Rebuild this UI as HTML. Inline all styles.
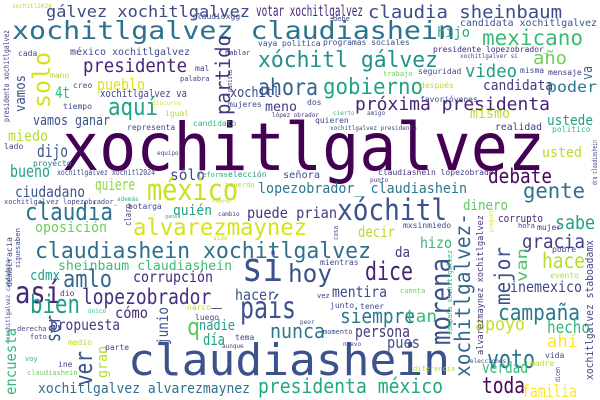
<!DOCTYPE html>
<html><head><meta charset="utf-8"><style>
html,body{margin:0;padding:0;background:#fff;}
svg{display:block;}
text{font-family:"DejaVu Sans Mono","Liberation Mono",monospace;}
</style></head><body>
<svg width="600" height="400" viewBox="0 0 600 400" xmlns="http://www.w3.org/2000/svg">
<rect width="600" height="400" fill="#fff"/>
<g lengthAdjust="spacingAndGlyphs">
<!-- big words -->
<text x="62" y="170" font-size="66" fill="#440154" textLength="483" lengthAdjust="spacingAndGlyphs">xochitlgalvez</text>
<text x="128" y="375" font-size="44" fill="#3b528b" textLength="322" lengthAdjust="spacingAndGlyphs">claudiashein</text>
<text x="12" y="39" font-size="25" fill="#2c728e" textLength="443" lengthAdjust="spacingAndGlyphs">xochitlgalvez claudiashein</text>
<text x="46" y="17" font-size="16" fill="#3e4989" textLength="204" lengthAdjust="spacingAndGlyphs">gálvez xochitlgalvez</text>
<text x="256" y="16" font-size="15" fill="#482878" textLength="107" lengthAdjust="spacingAndGlyphs">votar xochitlgalvez</text>
<text x="368" y="18" font-size="18" fill="#3e4a89" textLength="194" lengthAdjust="spacingAndGlyphs">claudia sheinbaum</text>
<text x="83" y="72" font-size="19" fill="#482677" textLength="104" lengthAdjust="spacingAndGlyphs">presidente</text>
<text x="258" y="67" font-size="22" fill="#21918c" textLength="180" lengthAdjust="spacingAndGlyphs">xóchitl gálvez</text>
<text x="258" y="95" font-size="23" fill="#33638d" textLength="60" lengthAdjust="spacingAndGlyphs">ahora</text>
<text x="482" y="45" font-size="21" fill="#3bbb75" textLength="101" lengthAdjust="spacingAndGlyphs">mexicano</text>
<text x="437" y="37" font-size="14" fill="#29af7f" textLength="33" lengthAdjust="spacingAndGlyphs">hijo</text>
<text x="460" y="26" font-size="10" fill="#3b528b" textLength="137" lengthAdjust="spacingAndGlyphs">candidata xochitlgalvez</text>
<text x="533" y="64" font-size="18" fill="#6ece58" textLength="34" lengthAdjust="spacingAndGlyphs">año</text>
<text x="465" y="77" font-size="18" fill="#1f9e89" textLength="52" lengthAdjust="spacingAndGlyphs">video</text>
<text x="323" y="94" font-size="22" fill="#20a386" textLength="100" lengthAdjust="spacingAndGlyphs">gobierno</text>
<text x="355" y="110" font-size="18" fill="#482475" textLength="195" lengthAdjust="spacingAndGlyphs">próxima presidenta</text>
<text x="483" y="90" font-size="14" fill="#443983" textLength="70" lengthAdjust="spacingAndGlyphs">candidata</text>
<text x="547" y="92" font-size="15" fill="#2a788e" textLength="50" lengthAdjust="spacingAndGlyphs">poder</text>
<text x="470" y="118" font-size="14" fill="#b5de2b" textLength="40" lengthAdjust="spacingAndGlyphs">mismo</text>
<text x="547" y="125" font-size="14" fill="#1fa187" textLength="46" lengthAdjust="spacingAndGlyphs">ustede</text>
<text x="495" y="130" font-size="10" fill="#433e85" textLength="47" lengthAdjust="spacingAndGlyphs">realidad</text>
<text x="542" y="157" font-size="14" fill="#b5de2b" textLength="40" lengthAdjust="spacingAndGlyphs">usted</text>
<text x="488" y="183" font-size="20" fill="#46085c" textLength="64" lengthAdjust="spacingAndGlyphs">debate</text>
<text x="523" y="198" font-size="21" fill="#2c728e" textLength="62" lengthAdjust="spacingAndGlyphs">gente</text>
<text x="258" y="193" font-size="14" fill="#2a788e" textLength="209" lengthAdjust="spacingAndGlyphs">lopezobrador_ claudiashein</text>
<text x="283" y="178" font-size="10" fill="#3e4989" textLength="37" lengthAdjust="spacingAndGlyphs">señora</text>
<text x="70" y="55" font-size="10" fill="#3e4989" textLength="120" lengthAdjust="spacingAndGlyphs">méxico xochitlgalvez</text>
<text x="97" y="90" font-size="16" fill="#d8e219" textLength="48" lengthAdjust="spacingAndGlyphs">pueblo</text>
<text x="55" y="98" font-size="16" fill="#35b779" textLength="15" lengthAdjust="spacingAndGlyphs">4t</text>
<text x="100" y="97" font-size="11" fill="#3e4989" textLength="87" lengthAdjust="spacingAndGlyphs">xochitlgalvez va</text>
<text x="108" y="115" font-size="24" fill="#20a486" textLength="50" lengthAdjust="spacingAndGlyphs">aquí</text>
<text x="230" y="97" font-size="14" fill="#3e4989" textLength="50" lengthAdjust="spacingAndGlyphs">xochitl</text>
<text x="265" y="111" font-size="13" fill="#453781" textLength="32" lengthAdjust="spacingAndGlyphs">meno</text>
<text x="33" y="125" font-size="14" fill="#3b528b" textLength="77" lengthAdjust="spacingAndGlyphs">vamos ganar</text>
<text x="8" y="141" font-size="15" fill="#b5de2b" textLength="40" lengthAdjust="spacingAndGlyphs">miedo</text>
<text x="37" y="157" font-size="17" fill="#3b528b" textLength="31" lengthAdjust="spacingAndGlyphs">dijo</text>
<text x="10" y="177" font-size="17" fill="#20a386" textLength="40" lengthAdjust="spacingAndGlyphs">bueno</text>
<text x="57" y="175" font-size="8" fill="#3e4989" textLength="98" lengthAdjust="spacingAndGlyphs">xochitlgalvez xochitl2024</text>
<text x="170" y="180" font-size="15" fill="#3e4989" textLength="35" lengthAdjust="spacingAndGlyphs">sólo</text>
<text x="95" y="190" font-size="16" fill="#90d743" textLength="40" lengthAdjust="spacingAndGlyphs">quiere</text>
<text x="15" y="197" font-size="15" fill="#3b528b" textLength="70" lengthAdjust="spacingAndGlyphs">ciudadano</text>
<text x="147" y="200" font-size="29" fill="#c8e020" textLength="91" lengthAdjust="spacingAndGlyphs">méxico</text>
<text x="337" y="220" font-size="29" fill="#3b528b" textLength="110" lengthAdjust="spacingAndGlyphs">xóchitl</text>
<text x="463" y="210" font-size="14" fill="#5ec962" textLength="45" lengthAdjust="spacingAndGlyphs">dinero</text>
<text x="25" y="220" font-size="24" fill="#2c728e" textLength="88" lengthAdjust="spacingAndGlyphs">claudia</text>
<text x="133" y="235" font-size="23" fill="#d8e219" textLength="174" lengthAdjust="spacingAndGlyphs">alvarezmaynez</text>
<text x="173" y="215" font-size="14" fill="#1fa187" textLength="39" lengthAdjust="spacingAndGlyphs">quién</text>
<text x="247" y="218" font-size="15" fill="#453781" textLength="90" lengthAdjust="spacingAndGlyphs">puede prian</text>
<text x="35" y="232" font-size="14" fill="#6ece58" textLength="72" lengthAdjust="spacingAndGlyphs">oposición</text>
<text x="35" y="258" font-size="22" fill="#2d708e" textLength="336" lengthAdjust="spacingAndGlyphs">claudiashein xochitlgalvez</text>
<text x="58" y="270" font-size="13" fill="#3cbc75" textLength="174" lengthAdjust="spacingAndGlyphs">sheinbaum claudiashein</text>
<text x="242" y="281" font-size="40" fill="#3b528b" textLength="41" lengthAdjust="spacingAndGlyphs">si</text>
<text x="288" y="282" font-size="25" fill="#3b528b" textLength="44" lengthAdjust="spacingAndGlyphs">hoy</text>
<text x="63" y="287" font-size="24" fill="#31688e" textLength="49" lengthAdjust="spacingAndGlyphs">amlo</text>
<text x="30" y="280" font-size="14" fill="#1fa187" textLength="30" lengthAdjust="spacingAndGlyphs">cdmx</text>
<text x="133" y="282" font-size="15" fill="#482878" textLength="80" lengthAdjust="spacingAndGlyphs">corrupción</text>
<text x="15" y="303" font-size="30" fill="#482878" textLength="46" lengthAdjust="spacingAndGlyphs">así</text>
<text x="82" y="304" font-size="21" fill="#46307e" textLength="140" lengthAdjust="spacingAndGlyphs">lopezobrador_</text>
<text x="332" y="297" font-size="15" fill="#3e4989" textLength="55" lengthAdjust="spacingAndGlyphs">mentira</text>
<text x="365" y="280" font-size="26" fill="#482475" textLength="48" lengthAdjust="spacingAndGlyphs">dice</text>
<text x="358" y="237" font-size="15" fill="#b5de2b" textLength="37" lengthAdjust="spacingAndGlyphs">decir</text>
<text x="420" y="248" font-size="15" fill="#35b779" textLength="32" lengthAdjust="spacingAndGlyphs">hizo</text>
<text x="395" y="257" font-size="14" fill="#453781" textLength="15" lengthAdjust="spacingAndGlyphs">da</text>
<text x="498" y="222" font-size="11" fill="#482878" textLength="45" lengthAdjust="spacingAndGlyphs">corrupto</text>
<text x="555" y="229" font-size="19" fill="#1fa187" textLength="40" lengthAdjust="spacingAndGlyphs">sabe</text>
<text x="522" y="248" font-size="19" fill="#433e85" textLength="63" lengthAdjust="spacingAndGlyphs">gracia</text>
<text x="542" y="268" font-size="21" fill="#b5de2b" textLength="43" lengthAdjust="spacingAndGlyphs">hace</text>
<text x="510" y="292" font-size="15" fill="#3e4989" textLength="72" lengthAdjust="spacingAndGlyphs">inemexico</text>
<text x="240" y="318" font-size="30" fill="#3b528b" textLength="56" lengthAdjust="spacingAndGlyphs">país</text>
<text x="30" y="313" font-size="26" fill="#1f9e89" textLength="50" lengthAdjust="spacingAndGlyphs">bien</text>
<text x="235" y="300" font-size="15" fill="#3b528b" textLength="40" lengthAdjust="spacingAndGlyphs">hacer</text>
<text x="115" y="318" font-size="15" fill="#482878" textLength="33" lengthAdjust="spacingAndGlyphs">cómo</text>
<text x="340" y="323" font-size="20" fill="#2a788e" textLength="75" lengthAdjust="spacingAndGlyphs">siempre</text>
<text x="405" y="322" font-size="17" fill="#35b779" textLength="32" lengthAdjust="spacingAndGlyphs">tan</text>
<text x="498" y="320" font-size="22" fill="#2a788e" textLength="82" lengthAdjust="spacingAndGlyphs">campaña</text>
<text x="50" y="330" font-size="15" fill="#453781" textLength="70" lengthAdjust="spacingAndGlyphs">propuesta</text>
<text x="187" y="335" font-size="24" fill="#5ec962" textLength="13" lengthAdjust="spacingAndGlyphs">q</text>
<text x="199" y="330" font-size="14" fill="#1f9e89" textLength="36" lengthAdjust="spacingAndGlyphs">nadie</text>
<text x="270" y="338" font-size="20" fill="#2a788e" textLength="55" lengthAdjust="spacingAndGlyphs">nunca</text>
<text x="355" y="337" font-size="16" fill="#453781" textLength="55" lengthAdjust="spacingAndGlyphs">persona</text>
<text x="475" y="330" font-size="18" fill="#c2df23" textLength="50" lengthAdjust="spacingAndGlyphs">apoyo</text>
<text x="547" y="333" font-size="17" fill="#35b779" textLength="43" lengthAdjust="spacingAndGlyphs">hecho</text>
<text x="203" y="345" font-size="16" fill="#20a386" textLength="22" lengthAdjust="spacingAndGlyphs">día</text>
<text x="387" y="348" font-size="16" fill="#3b528b" textLength="33" lengthAdjust="spacingAndGlyphs">pues</text>
<text x="547" y="347" font-size="17" fill="#fde725" textLength="31" lengthAdjust="spacingAndGlyphs">ahí</text>
<text x="487" y="368" font-size="26" fill="#2a788e" textLength="48" lengthAdjust="spacingAndGlyphs">voto</text>
<text x="482" y="373" font-size="16" fill="#35b779" textLength="46" lengthAdjust="spacingAndGlyphs">verdad</text>
<text x="38" y="393" font-size="14" fill="#2d708e" textLength="212" lengthAdjust="spacingAndGlyphs">xochitlgalvez alvarezmaynez</text>
<text x="258" y="393" font-size="20" fill="#22a884" textLength="185" lengthAdjust="spacingAndGlyphs">presidenta méxico</text>
<text x="482" y="393" font-size="22" fill="#46085c" textLength="43" lengthAdjust="spacingAndGlyphs">toda</text>
<text x="522" y="397" font-size="17" fill="#fde725" textLength="55" lengthAdjust="spacingAndGlyphs">familia</text>

<!-- vertical words -->
<text transform="translate(50,108) rotate(-90)" font-size="24" fill="#d8e219" textLength="56" lengthAdjust="spacingAndGlyphs">solo</text>
<text transform="translate(230,115) rotate(-90)" font-size="20" fill="#453781" textLength="80" lengthAdjust="spacingAndGlyphs">partido</text>
<text transform="translate(592,80) rotate(-90)" font-size="14" fill="#31688e" textLength="14" lengthAdjust="spacingAndGlyphs">va</text>
<text transform="translate(25,112) rotate(-90)" font-size="14" fill="#3b528b" textLength="37" lengthAdjust="spacingAndGlyphs">vamos</text>
<text transform="translate(9,122) rotate(-90)" font-size="8" fill="#433e85" textLength="92" lengthAdjust="spacingAndGlyphs">presidenta xochitlgalvez</text>
<text transform="translate(232,92) rotate(-90)" font-size="7" fill="#453781" textLength="22" lengthAdjust="spacingAndGlyphs">panista</text>
<text transform="translate(131,226) rotate(-90)" font-size="9" fill="#453781" textLength="22" lengthAdjust="spacingAndGlyphs">claro</text>
<text transform="translate(12,287) rotate(-90)" font-size="8" fill="#3e4989" textLength="50" lengthAdjust="spacingAndGlyphs">democracia</text>
<text transform="translate(20,250) rotate(-90)" font-size="7" fill="#3e4989" textLength="22" lengthAdjust="spacingAndGlyphs">saben</text>
<text transform="translate(20,268) rotate(-90)" font-size="7" fill="#3e4989" textLength="18" lengthAdjust="spacingAndGlyphs">sigue</text>
<text transform="translate(10,340) rotate(-90)" font-size="6" fill="#3e4989" textLength="80" lengthAdjust="spacingAndGlyphs">xochitlgalvez candidata</text>
<text transform="translate(168,345) rotate(-90)" font-size="15" fill="#3b528b" textLength="38" lengthAdjust="spacingAndGlyphs">junio</text>
<text transform="translate(60,342) rotate(-90)" font-size="20" fill="#3b528b" textLength="27" lengthAdjust="spacingAndGlyphs">ser</text>
<text transform="translate(16,395) rotate(-90)" font-size="15" fill="#35b779" textLength="67" lengthAdjust="spacingAndGlyphs">encuesta</text>
<text transform="translate(92,386) rotate(-90)" font-size="24" fill="#3b528b" textLength="35" lengthAdjust="spacingAndGlyphs">ver</text>
<text transform="translate(107,378) rotate(-90)" font-size="14" fill="#b5de2b" textLength="32" lengthAdjust="spacingAndGlyphs">gran</text>
<text transform="translate(510,305) rotate(-90)" font-size="21" fill="#3b528b" textLength="58" lengthAdjust="spacingAndGlyphs">mejor</text>
<text transform="translate(527,282) rotate(-90)" font-size="15" fill="#4ac16d" textLength="34" lengthAdjust="spacingAndGlyphs">van</text>
<text transform="translate(450,345) rotate(-90)" font-size="28" fill="#3b528b" textLength="87" lengthAdjust="spacingAndGlyphs">morena</text>
<text transform="translate(470,377) rotate(-90)" font-size="21" fill="#31688e" textLength="164" lengthAdjust="spacingAndGlyphs">xochitlgalvez-</text>
<text transform="translate(483,355) rotate(-90)" font-size="9" fill="#453781" textLength="140" lengthAdjust="spacingAndGlyphs">alvarezmaynez xochitlgalvez</text>
<text transform="translate(452,335) rotate(-90)" font-size="7" fill="#35b779" textLength="85" lengthAdjust="spacingAndGlyphs">campaña xochitlgalvez</text>
<text transform="translate(593,380) rotate(-90)" font-size="11" fill="#3e4989" textLength="140" lengthAdjust="spacingAndGlyphs">xochitlgalvez staboadamx</text>
<text transform="translate(597,185) rotate(-90)" font-size="7" fill="#3e4989" textLength="45" lengthAdjust="spacingAndGlyphs">dra claudiashein</text>
<text transform="translate(338,240) rotate(-90)" font-size="7" fill="#3e4989" textLength="14" lengthAdjust="spacingAndGlyphs">cosa</text>
<text transform="translate(493,232) rotate(-90)" font-size="6" fill="#d8e219" textLength="25" lengthAdjust="spacingAndGlyphs">pregunta</text>
<text transform="translate(560,382) rotate(-90)" font-size="7" fill="#453781" textLength="15" lengthAdjust="spacingAndGlyphs">dicen</text>

<!-- small words -->
<g font-size="8">
<text x="12" y="8" font-size="6" fill="#b5de2b">xochitl2024</text>
<text x="192" y="19" fill="#3e4989">claudioxgg</text>
<text x="18" y="56" fill="#3e4989">cada</text>
<text x="50" y="78" fill="#b5de2b">mano</text>
<text x="73" y="88" fill="#3e4989">creo</text>
<text x="63" y="109" fill="#3e4989">tiempo</text>
<text x="195" y="71" fill="#3e4989">mal</text>
<text x="180" y="81" font-size="7" fill="#453781">palabra</text>
<text x="225" y="55" font-size="7" fill="#453781">hablar</text>
<text x="258" y="46" fill="#3e4989">vaya</text>
<text x="282" y="46" fill="#3e4989">política</text>
<text x="228" y="107" fill="#3e4989">mujeres</text>
<text x="165" y="116" fill="#b5de2b">igual</text>
<text x="152" y="105" font-size="6" fill="#d8e219">discurso</text>
<text x="127" y="130" fill="#3e4989">representa</text>
<text x="193" y="126" fill="#35b779">candidato</text>
<text x="4" y="149" fill="#3e4989">lado</text>
<text x="157" y="155" font-size="6" fill="#3e4989">equipo</text>
<text x="33" y="166" fill="#2a788e">proyecto</text>
<text x="198" y="177" font-size="7" fill="#35b779">reforma</text>
<text x="228" y="177" fill="#1f9e89">elección</text>
<text x="225" y="187" font-size="7" fill="#b5de2b">acuerdo</text>
<text x="323" y="45" fill="#3e4989">programas sociales</text>
<text x="433" y="52" fill="#482878">presidente lopezobrador_</text>
<text x="333" y="21" font-size="7" fill="#3e4989">debe</text>
<text x="460" y="58" font-size="6" fill="#3e4989">xochitlgalver si</text>
<text x="418" y="74" fill="#3e4989">seguridad</text>
<text x="383" y="76" font-size="7" fill="#6ece58">trabajo</text>
<text x="520" y="73" fill="#3e4989">misma</text>
<text x="548" y="75" fill="#453781">mensaje</text>
<text x="420" y="88" fill="#b5de2b">después</text>
<text x="420" y="102" fill="#3e4989">favorjóvenes</text>
<text x="307" y="105" fill="#3e4989">dos</text>
<text x="272" y="117" font-size="6" fill="#453781">lópez obrador</text>
<text x="333" y="115" font-size="6" fill="#35b779">cierto</text>
<text x="367" y="115" font-size="6" fill="#3e4989">amigo</text>
<text x="315" y="123" fill="#3e4989">quieren</text>
<text x="330" y="130" font-size="6" fill="#3e4989">xochitlgalvez presidenta</text>
<text x="552" y="132" fill="#3bbb75">político</text>
<text x="378" y="175" fill="#453781">claudiashein lopezobrador_</text>
<text x="370" y="182" font-size="6" fill="#453781">punto</text>
<text x="4" y="204" font-size="7" fill="#3e4989">xochitlgalvez lopezobrador_</text>
<text x="117" y="201" font-size="6" fill="#35b779">además</text>
<text x="128" y="209" fill="#3e4989">botarga</text>
<text x="165" y="218" font-size="5" fill="#35b779">gana</text>
<text x="218" y="216" font-size="6" fill="#3e4989">cambio</text>
<text x="212" y="203" font-size="5" fill="#b5de2b">frente</text>
<text x="213" y="240" font-size="6" fill="#b5de2b">sido</text>
<text x="403" y="228" fill="#3e4989">mxsinmiedo</text>
<text x="518" y="228" font-size="7" fill="#3e4989">hora</text>
<text x="537" y="230" fill="#453781">mujer</text>
<text x="552" y="252" fill="#3e4989">pobre</text>
<text x="550" y="278" fill="#b5de2b">evento</text>
<text x="320" y="265" fill="#3e4989">mientras</text>
<text x="400" y="293" font-size="7" fill="#6ece58">cuenta</text>
<text x="317" y="298" font-size="7" fill="#453781">vez</text>
<text x="330" y="308" fill="#3e4989">junto</text>
<text x="360" y="309" fill="#3e4989">tener</text>
<text x="60" y="296" fill="#453781">dio</text>
<text x="187" y="310" fill="#b5de2b">narco</text>
<text x="88" y="313" font-size="6" fill="#35b779">único</text>
<text x="195" y="320" fill="#3e4989">luego</text>
<text x="17" y="331" font-size="7" fill="#3e4989">derecha</text>
<text x="30" y="339" font-size="7" fill="#3e4989">foto</text>
<text x="68" y="345" fill="#b5de2b">medio</text>
<text x="105" y="350" fill="#3e4989">parte</text>
<text x="235" y="340" fill="#3e4989">tema</text>
<text x="222" y="348" font-size="6" fill="#3e4989">aunque</text>
<text x="25" y="361" font-size="7" fill="#35b779">voy</text>
<text x="58" y="367" fill="#3e4989">ine</text>
<text x="27" y="375" font-size="7" fill="#6ece58">claudiashein'</text>
<text x="300" y="324" font-size="6" fill="#3e4989">peor</text>
<text x="323" y="334" font-size="7" fill="#3e4989">momento</text>
<text x="343" y="346" font-size="6" fill="#3e4989">nuevo</text>
<text x="413" y="371" font-size="7" fill="#b5de2b">diferencia</text>
<text x="470" y="363" font-size="6" fill="#3e4989">elecciones</text>
<text x="545" y="358" fill="#3e4989">vida</text>
<text x="530" y="366" fill="#b5de2b">madre</text>
</g>
</g>
</svg>
</body></html>
